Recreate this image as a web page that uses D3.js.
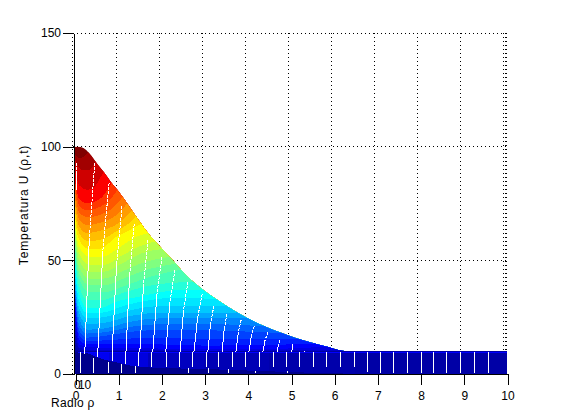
<!DOCTYPE html>
<html>
<head>
<meta charset="utf-8">
<script src="https://cdn.jsdelivr.net/npm/d3@7"></script>
<style>
    html, body { margin: 0; padding: 0; background: #fff; }
    svg { display: block; }
    text { font-family: "Liberation Sans", Arial, sans-serif; font-size: 12px; fill: #000; }
    .axis path, .axis line { stroke: #000; shape-rendering: crispEdges; }
    .grid { stroke: #000; stroke-dasharray: 1,3; shape-rendering: crispEdges; }
    .wire { stroke: #fff; fill: none; shape-rendering: crispEdges; }
</style>
</head>
<body>
<div id="chart"></div>
<script>
var rhoTicks = [0, 1, 2, 3, 4, 5, 6, 7, 8, 9, 10];
var tempTicks = [0, 50, 100, 150];
var timeLabels = ['0', '10'];
var timeLabelRho = [0, 0.09];

// top edge of the surface, temperature against radius
var envRho = [0, 0.12, 0.25, 0.4, 0.55, 0.7, 0.85, 1, 1.25, 1.5, 1.75, 2, 2.28, 2.55, 2.85, 3.28, 3.77, 4, 4.4, 5.1, 5.85, 6.3, 10];
var envTemp = [100, 100, 99, 96, 92, 88.5, 84.5, 81, 74.5, 67.5, 61, 55.8, 50, 44.2, 39, 33, 27, 24.6, 21, 16, 12, 10, 10];

// colour levels of the surface, each one has its own curve below
var levels = [97, 93, 89, 84, 81, 78, 75, 72, 69, 66, 63, 60, 57.5, 55, 52.5, 50, 47, 44, 41.5, 39, 36, 33, 30, 27, 24, 21, 18.5, 16, 14, 12];

var iso97 = [[0, 98], [0.05, 96], [0.15, 95], [0.33, 97.5]];
var iso93 = [[0, 96], [0.05, 93], [0.15, 90], [0.3, 89.5], [0.5, 93]];
var iso89 = [[0, 92], [0.05, 87], [0.12, 83], [0.3, 81], [0.45, 82], [0.68, 89]];
var iso84 = [[0, 88], [0.05, 82], [0.12, 77], [0.3, 75], [0.6, 77], [0.87, 84]];
var iso81 = [[0, 86], [0.05, 79.5], [0.12, 74], [0.3, 72], [0.6, 73.5], [0.85, 77], [1, 81]];
var iso78 = [[0, 84], [0.05, 77], [0.12, 71], [0.3, 69], [0.6, 70], [0.9, 73], [1.13, 78]];
var iso75 = [[0, 82], [0.05, 74], [0.12, 68], [0.3, 65.5], [0.6, 66.5], [0.95, 69.5], [1.23, 75]];
var iso72 = [[0, 80], [0.05, 71], [0.12, 65], [0.3, 62], [0.6, 63], [1, 66], [1.34, 72]];
var iso69 = [[0, 78], [0.05, 68], [0.12, 62], [0.33, 58.5], [0.6, 59], [1, 63], [1.25, 66], [1.43, 69]];
var iso66 = [[0, 76], [0.05, 65], [0.12, 59], [0.35, 55], [0.6, 55], [0.95, 60], [1.25, 63], [1.55, 66]];
var iso63 = [[0, 73.5], [0.05, 62.5], [0.12, 56], [0.35, 51.5], [0.65, 51.5], [1, 55], [1.4, 60], [1.72, 62]];
var iso60 = [[0, 71], [0.05, 60], [0.12, 53], [0.35, 48], [0.7, 48], [1.1, 52], [1.5, 56], [1.9, 58.5]];
var iso57 = [[0, 68.5], [0.05, 57.5], [0.12, 50], [0.35, 45], [0.7, 45], [1.1, 48.5], [1.55, 53], [2.05, 55]];
var iso55 = [[0, 66], [0.05, 55], [0.12, 47], [0.35, 42], [0.7, 42], [1.1, 45], [1.6, 49], [2.2, 51.5]];
var iso52 = [[0, 64], [0.05, 52.5], [0.12, 44.5], [0.35, 39], [0.7, 39], [1.15, 42], [1.7, 46], [2.35, 48.5]];
var iso50 = [[0, 62], [0.05, 50], [0.12, 42], [0.35, 36], [0.7, 36], [1.2, 39], [1.8, 43], [2.5, 46]];
var iso47 = [[0, 59.5], [0.05, 47], [0.12, 38.5], [0.32, 32.5], [0.65, 32.5], [1.1, 35.5], [1.65, 38.5], [2.2, 40], [2.75, 40.5]];
var iso44 = [[0, 57], [0.05, 44], [0.12, 35], [0.3, 29], [0.6, 29], [1, 32], [1.5, 34], [2, 36], [2.5, 37], [3, 37]];
var iso41 = [[0, 54.5], [0.05, 41], [0.12, 32], [0.3, 26.8], [0.65, 27], [1.15, 30], [1.75, 32.5], [2.3, 33.5], [3.3, 33]];
var iso39 = [[0, 52], [0.05, 38], [0.12, 29], [0.3, 24.5], [0.7, 25], [1.3, 28], [2, 30], [3, 30], [3.5, 30]];
var iso36 = [[0, 49.5], [0.05, 35.5], [0.12, 26.5], [0.3, 22], [0.7, 22.5], [1.3, 25.5], [2, 27], [3, 27], [3.75, 27]];
var iso33 = [[0, 47], [0.05, 33], [0.12, 24], [0.3, 19.5], [0.7, 20], [1.3, 23], [2, 24.5], [3, 24.6], [4, 24.6]];
var iso30 = [[0, 45.5], [0.05, 31], [0.12, 21.5], [0.3, 17.8], [0.75, 18.5], [1.4, 21], [2.2, 22], [3, 22], [4.4, 21]];
var iso27 = [[0, 44], [0.05, 29], [0.12, 19], [0.3, 16], [0.8, 17], [1.5, 19], [2.5, 19.5], [3.5, 19], [4.8, 18]];
var iso24 = [[0, 43], [0.05, 27], [0.12, 17], [0.3, 14.5], [0.9, 15], [1.7, 16], [2.7, 15.5], [4, 15.5], [5.2, 15.5]];
var iso21 = [[0, 42], [0.05, 25], [0.12, 15], [0.3, 13], [1, 13], [2, 13], [3, 12.5], [4.5, 12.8], [5.55, 13.3]];
var iso18 = [[0, 40], [0.05, 21.5], [0.12, 13], [0.35, 11.7], [1.2, 11.5], [2.5, 11], [4, 10.8], [5.85, 12]];
var iso16 = [[0, 38], [0.05, 18], [0.12, 11.5], [0.4, 10.5], [1.5, 10.5], [3, 10.2], [6.1, 10.8]];
var iso14 = [[0, 34], [0.05, 14], [0.15, 10.5], [0.5, 10.2], [2, 10.2], [6.3, 10]];
var iso12 = [[0, 30], [0.05, 10.5], [0.2, 10], [3, 10], [6.5, 10]];
var isoCurves = [iso97, iso93, iso89, iso84, iso81, iso78, iso75, iso72, iso69, iso66, iso63, iso60, iso57, iso55, iso52, iso50, iso47, iso44, iso41, iso39, iso36, iso33, iso30, iso27, iso24, iso21, iso18, iso16, iso14, iso12];

// low strip under the surface
var stripEdges = [0, 0.15, 0.8, 1.7, 3, 4.5, 6.5, 10];
var stripTemp = [10, 20, 18, 15, 14, 13, 12.5];
var darkRho = [0, 0.18, 0.58, 1.04, 1.4, 1.8, 3, 4.5, 6.8, 10];
var darkTop = [9.7, 9.7, 7, 4.8, 3.4, 2.8, 2.2, 1.2, 0, 0];

// white constant radius lines on the surface
var wireTopRho = [0.05, 0.48, 0.81, 1.11, 1.39, 1.71, 2.03, 2.33, 2.63, 2.96, 3.23, 3.53, 3.86, 4.16, 4.48, 4.76, 5.06, 5.33];
var wireTopTemp = [92.8, 93, 84, 74, 66, 59, 51.5, 45.8, 40.5, 35, 30, 26.4, 23.8, 21, 18.5, 15, 13.2, 10];
var wireEndRho = [0.05, 0.25, 0.55, 0.88, 1.2, 1.52, 1.82, 2.12, 2.45, 2.77, 3.09, 3.42, 3.74, 4.04, 4.36, 4.69, 5.03, 5.33];
var wireEndTemp = [81, 9.7, 9.7, 9.7, 9.7, 9.7, 9.7, 9.7, 9.7, 9.7, 9.7, 9.7, 9.7, 9.7, 9.7, 9.7, 9.7, 9.7];

var stripWireRho = [0.25, 0.55, 0.88, 1.18, 1.5, 1.8, 2.13, 2.44, 2.74, 3.05, 3.34, 3.67, 3.97, 4.28, 4.6, 4.9, 5.2, 5.53, 5.83, 6.15, 6.47, 6.77, 7.09, 7.39, 7.7, 8.02, 8.31, 8.61, 8.92, 9.24, 9.57];
var stripWireEnd = [8.8, 7.5, 5.5, 4.5, 3.4, 3, 3, 3, 3, 3, 3, 3, 3, 3, 3, 3, 3, 3, 3, 3, 3, 1, 0.5, 0.5, 0.5, 0.5, 0.5, 0.5, 0.5, 0.5, 0.5];
var lowWireRho = [0.16, 0.46, 0.79, 1.09, 1.41, 2.65, 3.11, 3.57, 4.19, 4.93];
var lowWireTop = [9.5, 7, 5.2, 4.4, 3.4, 2.6, 2.6, 2.2, 1.5, 1.2];

// back wall grid, the last two lines crowd the right edge
var gridRho = [1, 2, 3, 4, 5, 6, 7, 8, 9, 10, 10.05, 10.09];
var gridTemp = [50, 100, 150];

function surfaceChart() {

    var width = 561;
    var height = 420;

    var xScale = d3.scaleLinear().domain([0, 10]).range([74, 507]);
    var tickScale = d3.scaleLinear().domain([0, 10]).range([75.5, 507.5]);
    var gridScale = d3.scaleLinear().domain([0, 10]).range([73, 503]);
    var yScale = d3.scaleLinear().domain([0, 150]).range([374, 33]);

    // jet colormap over the temperature range
    var colorScale = d3.scaleLinear()
        .domain([10, 21.25, 43.75, 66.25, 88.75, 100])
        .range(['#00008c', '#0000ff', '#00ffff', '#ffff00', '#ff0000', '#800000']);

    var svg = d3.select('#chart').append('svg')
        .attr('width', width)
        .attr('height', height);

    // grid
    svg.selectAll('line.gridx')
        .data(gridRho)
        .enter()
        .append('line')
        .attr('class', 'grid')
        .attr('x1', function(d) { return gridScale(d); })
        .attr('x2', function(d) { return gridScale(d); })
        .attr('y1', yScale(150))
        .attr('y2', yScale(0));

    svg.selectAll('line.gridy')
        .data(gridTemp)
        .enter()
        .append('line')
        .attr('class', 'grid')
        .attr('x1', gridScale(0))
        .attr('x2', xScale(10))
        .attr('y1', function(d) { return yScale(d); })
        .attr('y2', function(d) { return yScale(d); });

    svg.append('line')
        .attr('class', 'grid')
        .attr('x1', gridScale(-0.02))
        .attr('x2', gridScale(-0.02))
        .attr('y1', yScale(150))
        .attr('y2', yScale(0));

    // surface, clipped to its top edge
    var envelope = envRho.map(function(d, i) { return [d, envTemp[i]]; });

    var edgeArea = d3.area()
        .x(function(d) { return xScale(d[0]); })
        .y0(yScale(9.7))
        .y1(function(d) { return yScale(d[1]); })
        .curve(d3.curveMonotoneX);

    svg.append('clipPath')
        .attr('id', 'edge')
        .append('path')
        .attr('shape-rendering', 'crispEdges')
        .attr('d', edgeArea(envelope));

    var surface = svg.append('g').attr('clip-path', 'url(#edge)');

    surface.append('rect')
        .attr('x', xScale(0))
        .attr('y', yScale(100))
        .attr('width', xScale(10) - xScale(0))
        .attr('height', yScale(0) - yScale(100))
        .attr('fill', colorScale(100));

    var levelArea = d3.area()
        .x(function(d) { return xScale(d[0]); })
        .y0(yScale(0))
        .y1(function(d) { return yScale(d[1]); })
        .curve(d3.curveMonotoneX);

    levels.forEach(function(level, i) {
        var curve = isoCurves[i];
        var last = curve[curve.length - 1];

        surface.append('path')
            .attr('d', levelArea(curve))
            .attr('fill', colorScale(level))
            .attr('shape-rendering', 'crispEdges');

        // past the point where the curve meets the edge everything is colder
        surface.append('rect')
            .attr('x', xScale(last[0]) - 0.5)
            .attr('y', yScale(100))
            .attr('width', xScale(10) - xScale(last[0]) + 0.5)
            .attr('height', yScale(0) - yScale(100))
            .attr('fill', colorScale(level))
            .attr('shape-rendering', 'crispEdges');
    });

    // strip
    svg.selectAll('rect.strip')
        .data(stripTemp)
        .enter()
        .append('rect')
        .attr('class', 'strip')
        .attr('x', function(d, i) { return xScale(stripEdges[i]); })
        .attr('width', function(d, i) { return xScale(stripEdges[i + 1]) - xScale(stripEdges[i]); })
        .attr('y', yScale(9.7))
        .attr('height', yScale(0) - yScale(9.7))
        .attr('fill', function(d) { return colorScale(d); })
        .attr('shape-rendering', 'crispEdges');

    var darkArea = d3.area()
        .x(function(d) { return xScale(d[0]); })
        .y0(yScale(0))
        .y1(function(d) { return yScale(d[1]); })
        .curve(d3.curveMonotoneX);

    svg.append('path')
        .attr('d', darkArea(darkRho.map(function(d, i) { return [d, darkTop[i]]; })))
        .attr('fill', colorScale(10))
        .attr('shape-rendering', 'crispEdges');

    svg.append('line')
        .attr('x1', xScale(0.1))
        .attr('x2', xScale(10))
        .attr('y1', Math.round(yScale(9.7)) + 0.5)
        .attr('y2', Math.round(yScale(9.7)) + 0.5)
        .attr('stroke', '#0000ff')
        .attr('shape-rendering', 'crispEdges');

    // white lines, broken near the top and solid below
    var wireLine = d3.line()
        .x(function(d) { return xScale(d[0]); })
        .y(function(d) { return yScale(d[1]); });

    wireTopRho.forEach(function(rho, i) {
        var top = [rho, wireTopTemp[i]];
        var end = [wireEndRho[i], wireEndTemp[i]];
        var mid = [top[0] + (end[0] - top[0]) * 0.55, top[1] + (end[1] - top[1]) * 0.4];
        svg.append('path').attr('class', 'wire')
            .attr('stroke-dasharray', '3,1')
            .attr('d', wireLine([top, mid]));
        svg.append('path').attr('class', 'wire')
            .attr('d', wireLine([mid, end]));
    });

    svg.selectAll('line.stripwire')
        .data(stripWireRho)
        .enter()
        .append('line')
        .attr('class', 'wire')
        .attr('x1', function(d) { return xScale(d); })
        .attr('x2', function(d) { return xScale(d); })
        .attr('y1', yScale(9.7))
        .attr('y2', function(d, i) { return yScale(stripWireEnd[i]); });

    svg.selectAll('line.lowwire')
        .data(lowWireRho)
        .enter()
        .append('line')
        .attr('class', 'wire')
        .attr('x1', function(d) { return xScale(d); })
        .attr('x2', function(d) { return xScale(d); })
        .attr('y1', function(d, i) { return yScale(lowWireTop[i]); })
        .attr('y2', yScale(0.3));

    // axes
    var xAxis = d3.axisBottom(tickScale)
        .tickValues(rhoTicks)
        .tickFormat(d3.format('d'))
        .tickSize(11)
        .tickSizeOuter(0)
        .tickPadding(6);

    var yAxis = d3.axisLeft(yScale)
        .tickValues(tempTicks)
        .tickFormat(d3.format('d'))
        .tickSize(11)
        .tickSizeOuter(0)
        .tickPadding(2);

    svg.append('g')
        .attr('class', 'axis')
        .attr('transform', 'translate(0,' + yScale(0) + ')')
        .call(xAxis);

    svg.append('g')
        .attr('class', 'axis')
        .attr('transform', 'translate(' + xScale(0) + ',0)')
        .call(yAxis);

    svg.selectAll('text.timelabel')
        .data(timeLabels)
        .enter()
        .append('text')
        .attr('class', 'timelabel')
        .attr('x', function(d, i) { return xScale(timeLabelRho[i]); })
        .attr('y', 389)
        .text(function(d) { return d; });

    svg.append('text')
        .attr('x', 51)
        .attr('y', 407)
        .style('letter-spacing', '0.3px')
        .text('Radio ρ');

    svg.append('text')
        .attr('transform', 'translate(28,205) rotate(-90)')
        .attr('text-anchor', 'middle')
        .style('letter-spacing', '0.85px')
        .text('Temperatura U (ρ,t)');
}

surfaceChart();
</script>
</body>
</html>
